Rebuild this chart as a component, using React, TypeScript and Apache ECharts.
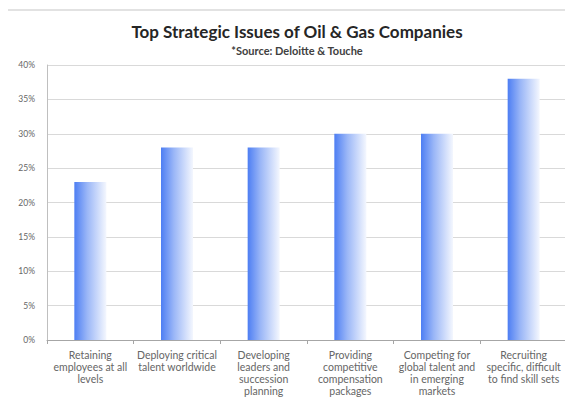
import React, { useEffect, useRef } from "react";
import * as echarts from "echarts";

const categories = [
  "Retaining\nemployees at all\nlevels",
  "Deploying critical\ntalent worldwide",
  "Developing\nleaders and\nsuccession\nplanning",
  "Providing\ncompetitive\ncompensation\npackages",
  "Competing for\nglobal talent and\nin emerging\nmarkets",
  "Recruiting\nspecific, difficult\nto find skill sets",
];
const values = [23, 28, 28, 30, 30, 38];
const titleText = "Top Strategic Issues of Oil & Gas Companies";
const subtitleText = "*Source: Deloitte & Touche";

export default function App() {
  const ref = useRef<HTMLDivElement>(null);
  useEffect(() => {
    if (!ref.current) return;
    const chart = echarts.init(ref.current, null, { renderer: "svg" });
    const font = "Lato, 'Open Sans', sans-serif";
    chart.setOption({
      animation: false,
      backgroundColor: "#ffffff",
      graphic: [
        {
          type: "rect",
          shape: { x: 6, y: 10, width: 580, height: 420 },
          style: { fill: "none", stroke: "#d9d9d9", lineWidth: 1.5 },
          silent: true,
        },
      ],
      title: {
        text: titleText,
        subtext: subtitleText,
        left: 292,
        textAlign: "center",
        top: 16,
        itemGap: 3,
        textStyle: { fontFamily: font, fontSize: 17, fontWeight: "bold", color: "#262626", lineHeight: 20 },
        subtextStyle: { fontFamily: font, fontSize: 11, fontWeight: "bold", color: "#404040", lineHeight: 13 },
      },
      grid: { left: 47, right: 6, top: 65, bottom: 71, containLabel: false },
      xAxis: {
        type: "category",
        data: categories,
        axisLine: { lineStyle: { color: "#a6a6a6" } },
        axisTick: { show: true, length: 4, lineStyle: { color: "#a6a6a6" } },
        axisLabel: {
          interval: 0,
          fontFamily: font,
          fontSize: 10.5,
          lineHeight: 12,
          color: "#666666",
          margin: 9,
        },
      },
      yAxis: {
        type: "value",
        min: 0,
        max: 40,
        interval: 5,
        axisLine: { show: true, lineStyle: { color: "#bfbfbf" } },
        axisTick: { show: false },
        axisLabel: {
          formatter: "{value}%",
          fontFamily: font,
          fontSize: 8.5,
          color: "#666666",
          margin: 12,
        },
        splitLine: { lineStyle: { color: "#d9d9d9" } },
      },
      series: [
        {
          type: "bar",
          data: values,
          barWidth: 32,
          itemStyle: {
            color: new echarts.graphic.LinearGradient(0, 0, 1, 0, [
              { offset: 0, color: "#4d7ef3" },
              { offset: 0.4, color: "#9ab6f7" },
              { offset: 1, color: "#f4f7fe" },
            ]),
          },
        },
      ],
    });
    return () => chart.dispose();
  }, []);
  return <div ref={ref} style={{ width: 573, height: 411, margin: -8 }} />;
}
